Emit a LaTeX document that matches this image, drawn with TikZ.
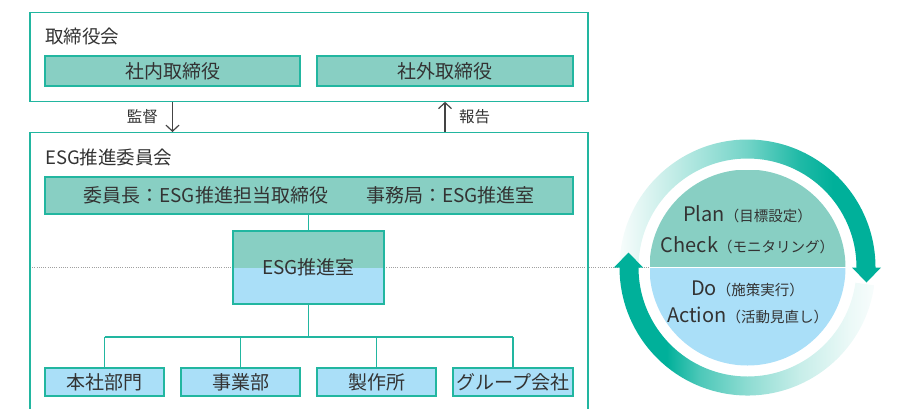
\documentclass[tikz,border=0pt]{standalone}
\usepackage{fontspec}
\setmainfont{Noto Sans CJK JP}
\usetikzlibrary{arrows.meta}
\definecolor{boxteal}{HTML}{88CFC3}
\definecolor{lineteal}{HTML}{22B6A0}
\definecolor{lblue}{HTML}{AADFF8}
\definecolor{ringteal}{HTML}{00B09A}
\definecolor{txt}{HTML}{333333}
\definecolor{dotgray}{HTML}{A0A0A0}
\definecolor{arrgray}{HTML}{444444}
\pgfdeclarehorizontalshading{topring}{100bp}{color(0bp)=(ringteal!3!white); color(25bp)=(ringteal!3!white); color(40.5bp)=(ringteal!35!white); color(49.4bp)=(ringteal!55!white); color(59.5bp)=(ringteal!88!white); color(65.8bp)=(ringteal); color(100bp)=(ringteal)}
\pgfdeclarehorizontalshading{botring}{100bp}{color(0bp)=(ringteal); color(35.1bp)=(ringteal); color(41.4bp)=(ringteal!70!white); color(50.4bp)=(ringteal!45!white); color(60.6bp)=(ringteal!22!white); color(70.1bp)=(ringteal!8!white); color(75bp)=(ringteal!3!white); color(100bp)=(ringteal!3!white)}
\begin{document}
\begin{tikzpicture}[x=1pt,y=-1pt,
  frame/.style={draw=lineteal, line width=1.3pt, inner sep=0pt},
  tealbox/.style={draw=lineteal, line width=1.3pt, fill=boxteal, inner sep=0pt, text=txt, font=\fontsize{19}{21}\selectfont},
  bluebox/.style={draw=lineteal, line width=1.3pt, fill=lblue, inner sep=0pt, text=txt, font=\fontsize{19}{21}\selectfont, minimum width=119pt, minimum height=28pt},
  titletxt/.style={anchor=west, inner sep=0pt, text=txt, font=\fontsize{18.5}{20}\selectfont},
  smalltxt/.style={inner sep=0pt, text=txt, font=\fontsize{15.5}{17}\selectfont},
  arr/.style={draw=arrgray, line width=1.2pt, -{Straight Barb[length=6pt,width=13pt]}},
  tree/.style={draw=lineteal, line width=1.5pt},
  dotline/.style={draw=dotgray, line width=1pt, dash pattern=on 1pt off 1.2pt},
  circtxt/.style={anchor=base, inner sep=0pt, text=txt},
]
\useasboundingbox (0,0) rectangle (899,408);
\clip (0,0) rectangle (899,408);

% dotted divider
\coordinate (dotL) at (30,267.5);
\coordinate (dotR) at (649,267.5);
\draw[dotline] (dotL) -- (dotR);

% board of directors
\node[frame, minimum width=558pt, minimum height=89pt, anchor=north] (board) at (309,11.5) {};
\node[titletxt] (boardtitle) at (45,36) {取締役会};
\node[tealbox, minimum width=255pt, minimum height=30pt] (inside) at (172.5,71) {社内取締役};
\node[tealbox, minimum width=256pt, minimum height=30pt] (outside) at (445,71) {社外取締役};

% committee
\node[frame, minimum width=558pt, minimum height=300pt, anchor=north] (committee) at (309,132) {};
\node[titletxt] (comtitle) at (45,157) {ESG推進委員会};
\node[tealbox, minimum width=528pt, minimum height=37pt] (chair) at (309,195.5) {委員長：ESG推進担当取締役\hspace{2em}事務局：ESG推進室};

% arrows between
\draw[arr] (board.south -| inside.south) -- (committee.north -| inside.south);
\draw[arr] (committee.north -| outside.south) -- (board.south -| outside.south);
\node[smalltxt, anchor=east] (kantoku) at (158,117) {監督};
\node[smalltxt, anchor=west] (houkoku) at (459,117) {報告};

% ESG office
\node[draw=lineteal, line width=1.3pt, minimum width=151pt, minimum height=73pt, inner sep=0pt, text=txt, font=\fontsize{19}{21}\selectfont,
  path picture={
    \fill[boxteal] (path picture bounding box.north west) rectangle (path picture bounding box.east);
    \fill[lblue] (path picture bounding box.west) rectangle (path picture bounding box.south east);
  }] (esg) at (308.5,267.5) {ESG推進室};
\draw[tree] (chair.south -| esg.north) -- (esg.north);

% departments
\node[bluebox] (hq) at (104.5,382) {本社部門};
\node[bluebox] (biz) at (240.5,382) {事業部};
\node[bluebox] (plant) at (376.5,382) {製作所};
\node[bluebox, minimum width=120pt] (grp) at (513,382) {グループ会社};
\coordinate (bus) at (308.5,337);
\draw[tree] (esg.south) -- (bus);
\draw[tree] (hq.north |- bus) -- (grp.north |- bus);
\draw[tree] (hq.north |- bus) -- (hq.north);
\draw[tree] (biz.north |- bus) -- (biz.north);
\draw[tree] (plant.north |- bus) -- (plant.north);
\draw[tree] (grp.north |- bus) -- (grp.north);

% PDCA circle
\coordinate (C) at (747.5,267.5);
\shade[shading=topring] (C) ++(182:128) arc[start angle=182, end angle=360, radius=128]
  -- ++(5.5,0) -- ++(-14.5,15) -- ++(-14.5,-15) -- ++(4.5,0)
  arc[start angle=360, end angle=182, radius=109] -- cycle;
\shade[shading=botring] (C) ++(8:128) arc[start angle=8, end angle=180, radius=128]
  -- ++(-5.5,0) -- ++(14.5,-15) -- ++(14.5,15) -- ++(-4.5,0)
  arc[start angle=180, end angle=8, radius=109] -- cycle;
\node[circle, minimum size=196pt, inner sep=0pt,
  path picture={
    \fill[boxteal] (path picture bounding box.north west) rectangle (path picture bounding box.east);
    \fill[lblue] (path picture bounding box.west) rectangle (path picture bounding box.south east);
  }] (disc) at (C) {};
\draw[white, line width=1.5pt] (disc.west) -- (disc.east);
\node[circtxt] (plan) at (747.5,221) {{\fontsize{20}{22}\selectfont Plan}{\fontsize{14.5}{16}\selectfont （目標設定）}};
\node[circtxt] (check) at (747.5,252) {{\fontsize{20}{22}\selectfont Check}{\fontsize{14.5}{16}\selectfont （モニタリング）}};
\node[circtxt] (do) at (747.5,295) {{\fontsize{20}{22}\selectfont Do}{\fontsize{14.5}{16}\selectfont （施策実行）}};
\node[circtxt] (act) at (747.5,322) {{\fontsize{20}{22}\selectfont Action}{\fontsize{14.5}{16}\selectfont （活動見直し）}};
\end{tikzpicture}
\end{document}
